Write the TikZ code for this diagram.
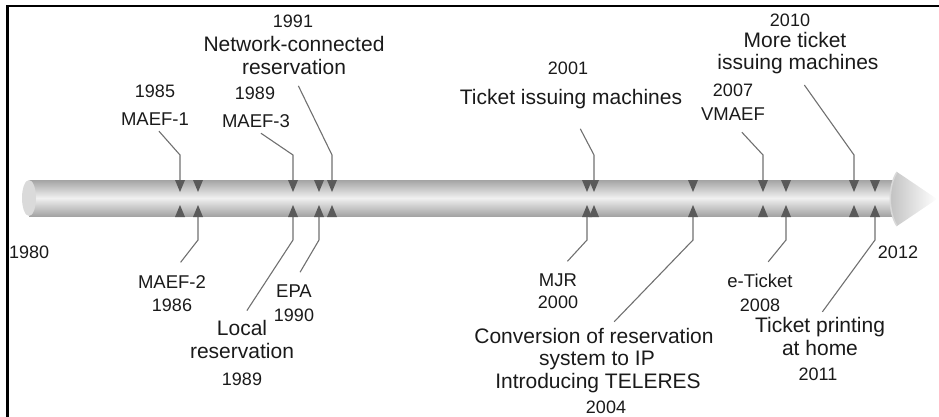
\documentclass[tikz,border=0pt]{standalone}
\usepackage{fontspec}
\setmainfont{Liberation Sans}
\usepackage{tikz}
\usetikzlibrary{positioning,calc}
\definecolor{InkGrey}{HTML}{1A1A1A}
\definecolor{LeadGrey}{HTML}{707070}
\definecolor{TickGrey}{HTML}{5A5A5A}
\definecolor{TubeEdge}{HTML}{A4A4A4}
\definecolor{TubeLight}{HTML}{F0F0F0}
\definecolor{TubeCap}{HTML}{DADADA}

\begin{document}
\begin{tikzpicture}[x=1pt, y=-1pt, font=\fontsize{18}{20}\selectfont,
    yr/.style={text=InkGrey, inner sep=1.5pt, anchor=base},
    lbl/.style={yr, font=\fontsize{18.5}{20}\selectfont},
    big/.style={yr, font=\fontsize{21}{23}\selectfont},
    lead/.style={draw=LeadGrey, line width=1.1pt},
    tri/.style={fill=TickGrey}]
  \useasboundingbox (0,0) rectangle (939,417);
  % frame
  \draw[black, line width=2.2pt] (7.5,417) -- (7.5,6) -- (939,6);
  % time tube
  \shade[top color=TubeEdge, bottom color=TubeEdge, middle color=TubeLight]
    (29,180) rectangle (900,216);
  \fill[TubeCap] (29,198) ellipse [x radius=7, y radius=18];
  \shade[left color=black!25, right color=white]
    (897,172) .. controls (888,186) and (888,212) .. (897,226) -- (937,199) -- cycle;
  \draw[black!15, line width=1.5pt]
    (897,172) .. controls (888,186) and (888,212) .. (897,226);

  \foreach \n/\x in {85/180, 86/198, 89/293, 90/319, 91/332, 00/587, 01/594,
                     04/693, 07/763, 08/786, 10/854, 11/875} {
    \coordinate (up\n) at (\x,180);
    \coordinate (dn\n) at (\x,217);
    \fill[tri] (\x-5,180) -- (\x+5,180) -- (\x,192) -- cycle;
    \fill[tri] (\x-5,217) -- (\x+5,217) -- (\x,205) -- cycle;
  }
  \coordinate (hi) at (0,155);
  \coordinate (lo) at (0,240);

  % labels above
  \node[yr]  (y85)  at (155,98)  {1985};
  \node[lbl] (m1)   at (155,125) {MAEF-1};
  \node[yr]  (y89a) at (255,100) {1989};
  \node[lbl] (m3)   at (256,128) {MAEF-3};
  \node[yr]  (y91)  at (293,28)  {1991};
  \node[big] (net1) at (294,52)  {Network-connected};
  \node[big] (net2) at (294,75)  {reservation};
  \node[yr]  (y01)  at (568,75)  {2001};
  \node[big] (tim)  at (571,105) {Ticket issuing machines};
  \node[yr]  (y07)  at (733,97)  {2007};
  \node[lbl] (vm)   at (733,121) {VMAEF};
  \node[yr]  (y10)  at (790,27)  {2010};
  \node[big] (mt1)  at (795,48)  {More ticket};
  \node[big] (mt2)  at (798,70)  {issuing machines};

  % labels below
  \node[yr, anchor=base west, inner sep=0pt] (y80) at (9,258) {1980};
  \node[lbl] (m2)   at (172,288) {MAEF-2};
  \node[yr]  (y86)  at (172,311) {1986};
  \node[big] (loc1) at (242,335) {Local};
  \node[big] (loc2) at (242,358) {reservation};
  \node[yr]  (y89b) at (242,385) {1989};
  \node[lbl] (epa)  at (294,297) {EPA};
  \node[yr]  (y90)  at (294,321) {1990};
  \node[lbl] (mjr)  at (558,286) {MJR};
  \node[yr]  (y00)  at (558,308) {2000};
  \node[big] (cv1)  at (594,343) {Conversion of reservation};
  \node[big] (cv2)  at (597,365) {system to IP};
  \node[big] (cv3)  at (598,388) {Introducing TELERES};
  \node[yr]  (y04)  at (606,413) {2004};
  \node[lbl] (et)   at (760,287) {e-Ticket};
  \node[yr]  (y08)  at (760,311) {2008};
  \node[big] (tp1)  at (820,332) {Ticket printing};
  \node[big] (tp2)  at (820,355) {at home};
  \node[yr]  (y11)  at (818,380) {2011};
  \node[yr]  (y12)  at (898,258) {2012};

  % leaders
  \foreach \lab/\tk/\s in {m1/up85/6pt, m3/up89/6pt, net2/up91/10pt, tim/up01/20pt,
                           vm/up07/13pt, mt2/up10/11pt}
    \draw[lead, shorten <=\s] (\lab.south) -- (\tk |- hi) -- (\tk);
  \foreach \lab/\tk/\s in {m2/dn86/14pt, loc1/dn89/9pt, epa/dn90/12pt, mjr/dn00/14pt,
                           et/dn08/13pt, tp1/dn11/4pt}
    \draw[lead, shorten <=\s] (\lab.north) -- (\tk |- lo) -- (\tk);
  \draw[lead, shorten <=6pt] ([xshift=16pt]cv1.north) -- (dn04 |- lo) -- (dn04);
\end{tikzpicture}
\end{document}
